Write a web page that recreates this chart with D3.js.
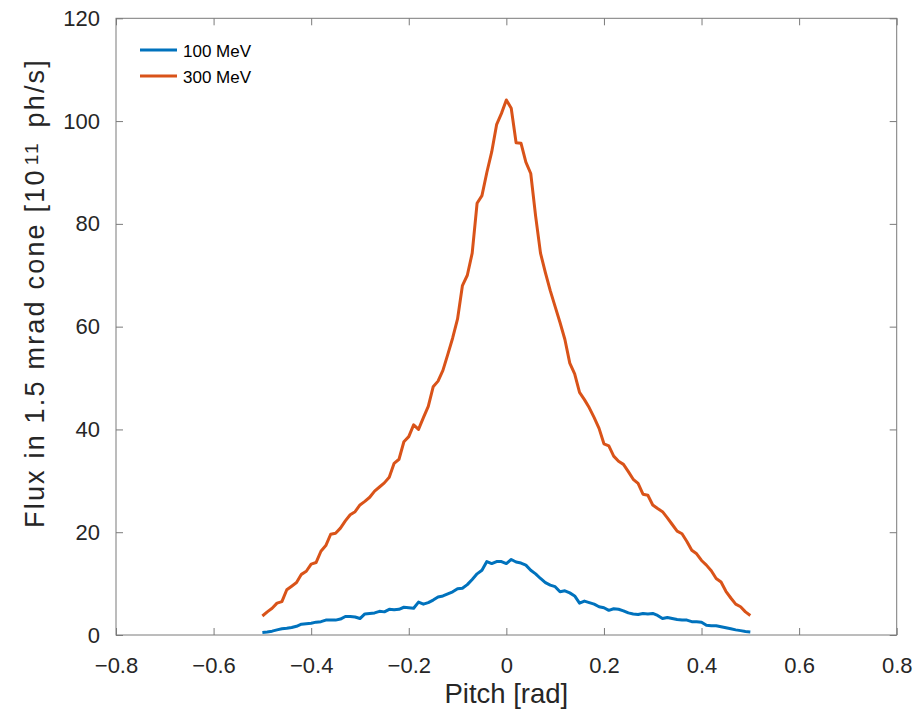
<!DOCTYPE html>
<html><head><meta charset="utf-8">
<script src="https://cdn.jsdelivr.net/npm/d3@7"></script>
<style>body{margin:0;background:#fff;} text{font-family:"Liberation Sans",Arial,Helvetica,sans-serif;}</style>
</head><body>
<svg id="chart" width="918" height="711"></svg>
<script>
const pitch = [-0.50,-0.49,-0.48,-0.47,-0.46,-0.45,-0.44,-0.43,-0.42,-0.41,-0.40,-0.39,-0.38,-0.37,-0.36,-0.35,-0.34,-0.33,-0.32,-0.31,-0.30,-0.29,-0.28,-0.27,-0.26,-0.25,-0.24,-0.23,-0.22,-0.21,-0.20,-0.19,-0.18,-0.17,-0.16,-0.15,-0.14,-0.13,-0.12,-0.11,-0.10,-0.09,-0.08,-0.07,-0.06,-0.05,-0.04,-0.03,-0.02,-0.01,0.00,0.01,0.02,0.03,0.04,0.05,0.06,0.07,0.08,0.09,0.10,0.11,0.12,0.13,0.14,0.15,0.16,0.17,0.18,0.19,0.20,0.21,0.22,0.23,0.24,0.25,0.26,0.27,0.28,0.29,0.30,0.31,0.32,0.33,0.34,0.35,0.36,0.37,0.38,0.39,0.40,0.41,0.42,0.43,0.44,0.45,0.46,0.47,0.48,0.49,0.50];
const flux100 = [0.5,0.6,0.75,1.0,1.2,1.3,1.45,1.7,2.1,2.2,2.3,2.5,2.6,2.9,2.9,2.9,3.1,3.6,3.6,3.5,3.2,4.1,4.2,4.3,4.6,4.5,5.0,4.9,5.0,5.4,5.3,5.2,6.4,6.0,6.3,6.8,7.4,7.6,8.0,8.4,9.0,9.1,9.8,10.8,11.9,12.6,14.3,13.9,14.3,14.3,13.9,14.7,14.2,14.0,13.6,12.6,11.9,11.0,10.2,9.7,9.4,8.4,8.6,8.2,7.6,6.2,6.6,6.3,6.0,5.5,5.3,4.8,5.1,5.0,4.7,4.3,4.1,4.0,4.2,4.1,4.2,3.8,3.2,3.4,3.2,3.0,2.9,2.9,2.6,2.6,2.5,1.9,1.8,1.8,1.6,1.4,1.2,1.0,0.85,0.7,0.6];
const flux300 = [3.7,4.5,5.2,6.2,6.5,8.8,9.5,10.2,11.8,12.4,13.8,14.1,16.3,17.4,19.6,19.8,20.8,22.2,23.4,24.0,25.3,26.0,26.8,28.0,28.8,29.6,30.7,33.4,34.2,37.6,38.6,40.9,40.0,42.3,44.5,48.3,49.4,51.5,54.6,57.8,61.5,68.0,70.0,74.3,84.0,85.5,90.0,94.0,99.3,101.5,104.1,102.5,95.8,95.7,92.0,89.8,81.5,74.3,70.5,67.0,63.9,60.8,57.5,52.9,50.8,47.2,45.8,44.2,42.3,40.2,37.2,36.8,34.8,33.8,33.2,31.8,30.3,29.5,27.4,27.2,25.3,24.6,24.0,22.8,21.5,20.2,19.7,18.2,16.5,15.8,14.5,13.6,12.5,11.0,10.3,8.5,7.2,6.0,5.5,4.5,3.8];
const seriesNames = ["100 MeV","300 MeV"];
const seriesColors = ["#0072BD","#D95319"];
const xTicks = [-0.8,-0.6,-0.4,-0.2,0,0.2,0.4,0.6,0.8];
const yTicks = [0,20,40,60,80,100,120];

const svg = d3.select("#chart");
const L=116, R=896.7, T=18.3, B=635;
const x = d3.scaleLinear().domain([-0.8,0.8]).range([L,R]);
const y = d3.scaleLinear().domain([0,120]).range([B,T]);
const axisColor="#262626", boxColor="#7a7a7a";

const g = svg.append("g");
g.append("rect").attr("x",L).attr("y",T).attr("width",R-L).attr("height",B-T)
 .attr("fill","none").attr("stroke",boxColor).attr("stroke-width",1);

const fmtX = d => d < 0 ? "\u2212" + String(-d) : String(d);
const xa = g.append("g").attr("transform",`translate(0,${B})`)
 .call(d3.axisBottom(x).tickValues(xTicks).tickSizeInner(-7).tickSizeOuter(0).tickPadding(22).tickFormat(fmtX));
const xt = g.append("g").attr("transform",`translate(0,${T})`)
 .call(d3.axisTop(x).tickValues(xTicks).tickSizeInner(-7).tickSizeOuter(0).tickFormat(""));
const ya = g.append("g").attr("transform",`translate(${L},0)`)
 .call(d3.axisLeft(y).tickValues(yTicks).tickSizeInner(-7).tickSizeOuter(0).tickPadding(16).tickFormat(d=>d));
const yr = g.append("g").attr("transform",`translate(${R},0)`)
 .call(d3.axisRight(y).tickValues(yTicks).tickSizeInner(-7).tickSizeOuter(0).tickFormat(""));
[xa,xt,ya,yr].forEach(a=>{
  a.select(".domain").remove();
  a.selectAll(".tick line").attr("stroke",boxColor);
  a.selectAll(".tick text").attr("fill",axisColor).style("font-size","22px");
});
xa.selectAll(".tick text").attr("dy","0.71em");

const line = d3.line().x((d,i)=>x(pitch[i])).y(d=>y(d));
[flux100,flux300].forEach((s,k)=>{
  g.append("path").datum(s).attr("d",line).attr("fill","none")
   .attr("stroke",seriesColors[k]).attr("stroke-width",3).attr("stroke-linejoin","round");
});

svg.append("text").attr("x",(L+R)/2).attr("y",703).attr("text-anchor","middle")
 .attr("fill",axisColor).style("font-size","27.5px").text("Pitch [rad]");
const yl = svg.append("text").attr("transform",`translate(44,293) rotate(-90)`)
 .attr("text-anchor","middle").attr("fill",axisColor).style("font-size","27px")
 .style("letter-spacing","2.2px");
yl.append("tspan").text("Flux in 1.5 mrad cone [10");
yl.append("tspan").attr("dy",-6).attr("dx",3).style("font-size","19px").text("11");
yl.append("tspan").attr("dy",6).attr("dx",4).text(" ph/s]");

seriesNames.forEach((n,k)=>{
  const ly = 50 + k*26;
  svg.append("line").attr("x1",140).attr("x2",177).attr("y1",ly).attr("y2",ly)
   .attr("stroke",seriesColors[k]).attr("stroke-width",3);
  svg.append("text").attr("x",183).attr("y",ly+7).attr("fill","#000")
   .style("font-size","17px").text(n);
});
</script>
</body></html>
